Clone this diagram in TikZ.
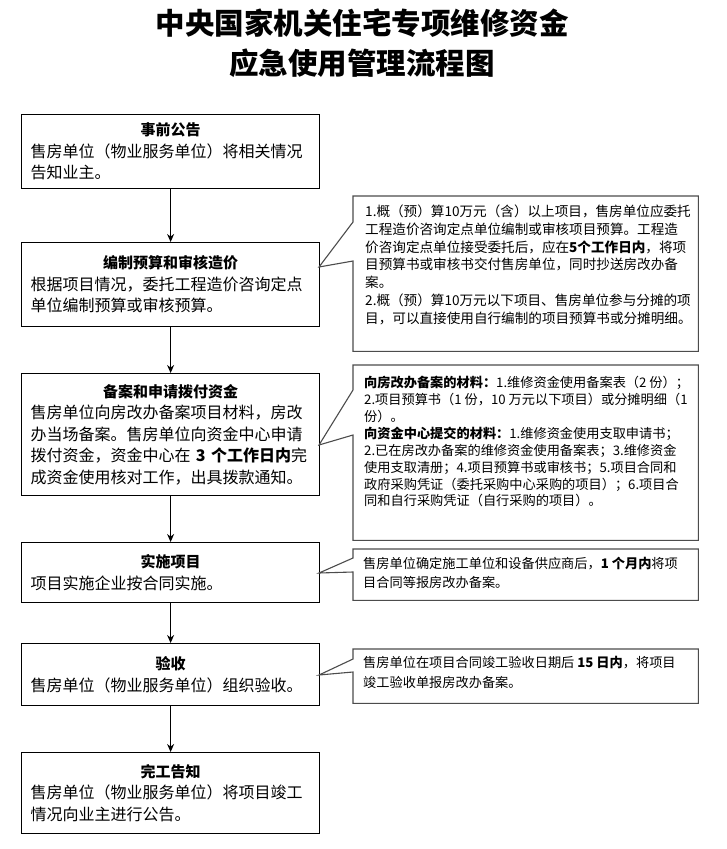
\documentclass[tikz,border=0pt]{standalone}
\usepackage{fontspec}
\setmainfont{Noto Sans CJK SC}
\usetikzlibrary{arrows.meta}
\begin{document}
\begin{tikzpicture}[x=1pt,y=-1pt,
  stepbox/.style={draw=black, line width=1.2pt, fill=white, text width=280pt, inner xsep=9pt, inner ysep=0pt, align=left, font=\fontsize{16}{21.5}\selectfont, anchor=north west},
  notebox/.style={draw=none, minimum width=345pt, anchor=north west, inner sep=0pt},
  notetext/.style={anchor=north west, align=left, inner sep=0pt},
  callout/.style={draw=black!70, line width=1.1pt, fill=white},
  flow/.style={line width=1pt, -{Stealth[length=8pt,width=7pt]}},
  titletext/.style={font=\fontsize{29.5}{40}\selectfont\bfseries}]
\useasboundingbox (0,0) rectangle (726,849);
\newcommand{\hd}[1]{\makebox[\linewidth]{\fontsize{15}{21.5}\selectfont\bfseries #1}}

% title
\node[titletext] (title1) at (362,23) {中央国家机关住宅专项维修资金};
\node[titletext] (title2) at (362,63) {应急使用管理流程图};

% step boxes
\node[stepbox, minimum height=74pt] (b1) at (21,114) {\hd{事前公告}\\售房单位（物业服务单位）将相关情况\\告知业主。};
\node[stepbox, minimum height=84pt] (b2) at (21,242) {\hd{编制预算和审核造价}\\根据项目情况，委托工程造价咨询定点\\单位编制预算或审核预算。};
\node[stepbox, minimum height=122pt] (b3) at (21,373) {\hd{备案和申请拨付资金}\\售房单位向房改办备案项目材料，房改\\办当场备案。售房单位向资金中心申请\\拨付资金，资金中心在 \textbf{3 个工作日内}完\\成资金使用核对工作，出具拨款通知。};
\node[stepbox, minimum height=60pt] (b4) at (21,542) {\hd{实施项目}\\项目实施企业按合同实施。};
\node[stepbox, minimum height=62pt] (b5) at (21,643) {\hd{验收}\\售房单位（物业服务单位）组织验收。};
\node[stepbox, minimum height=81pt] (b6) at (21,752) {\hd{完工告知}\\售房单位（物业服务单位）将项目竣工\\情况向业主进行公告。};

% flow arrows
\draw[flow] (b1.south) -- (b2.north);
\draw[flow] (b2.south) -- (b3.north);
\draw[flow] (b3.south) -- (b4.north);
\draw[flow] (b4.south) -- (b5.north);
\draw[flow] (b5.south) -- (b6.north);

% callout frames
\node[notebox, minimum height=155pt] (c1) at (353,196) {};
\node[notebox, minimum height=175pt] (c2) at (353,365) {};
\node[notebox, minimum height=51pt] (c3) at (353,549) {};
\node[notebox, minimum height=54pt] (c4) at (353,649) {};

\coordinate (p1a) at (353,222); \coordinate (p1b) at (353,261); \coordinate (t1) at (319,267);
\coordinate (p2a) at (353,390); \coordinate (p2b) at (353,435); \coordinate (t2) at (319,445);
\coordinate (p3a) at (353,558); \coordinate (p3b) at (353,572); \coordinate (t3) at (319,573);
\coordinate (p4a) at (353,659); \coordinate (p4b) at (353,672); \coordinate (t4) at (319,675);

\draw[callout] (c1.north west) -- (c1.north east) -- (c1.south east) -- (c1.south west) -- (p1b) -- (t1) -- (p1a) -- cycle;
\draw[callout] (c2.north west) -- (c2.north east) -- (c2.south east) -- (c2.south west) -- (p2b) -- (t2) -- (p2a) -- cycle;
\draw[callout] (c3.north west) -- (c3.north east) -- (c3.south east) -- (c3.south west) -- (p3b) -- (t3) -- (p3a) -- cycle;
\draw[callout] (c4.north west) -- (c4.north east) -- (c4.south east) -- (c4.south west) -- (p4b) -- (t4) -- (p4a) -- cycle;

% callout texts
\node[notetext, font=\fontsize{13.6}{17.7}\selectfont] (c1t) at ([xshift=12pt,yshift=-9pt]c1.north west) {1.概（预）算10万元（含）以上项目，售房单位应委托\\工程造价咨询定点单位编制或审核项目预算。工程造\\价咨询定点单位接受委托后，应在\textbf{5个工作日内}，将项\\目预算书或审核书交付售房单位，同时抄送房改办备\\案。\\2.概（预）算10万元以下项目、售房单位参与分摊的项\\目，可以直接使用自行编制的项目预算书或分摊明细。};
\node[notetext, font=\fontsize{13.2}{16.9}\selectfont] (c2t) at ([xshift=11pt,yshift=-11pt]c2.north west) {\textbf{向房改办备案的材料：}1.维修资金使用备案表（2 份）；\\2.项目预算书（1 份，10 万元以下项目）或分摊明细（1\\份）。\\\textbf{向资金中心提交的材料：}1.维修资金使用支取申请书；\\2.已在房改办备案的维修资金使用备案表；3.维修资金\\使用支取清册；4.项目预算书或审核书；5.项目合同和\\政府采购凭证（委托采购中心采购的项目）；6.项目合\\同和自行采购凭证（自行采购的项目）。};
\node[notetext, font=\fontsize{13.2}{19}\selectfont] (c3t) at ([xshift=10pt,yshift=-7.5pt]c3.north west) {售房单位确定施工单位和设备供应商后，\textbf{1 个月内}将项\\目合同等报房改办备案。};
\node[notetext, font=\fontsize{13.2}{20}\selectfont] (c4t) at ([xshift=10pt,yshift=-7.5pt]c4.north west) {售房单位在项目合同竣工验收日期后 \textbf{15 日内}，将项目\\竣工验收单报房改办备案。};
\end{tikzpicture}
\end{document}
